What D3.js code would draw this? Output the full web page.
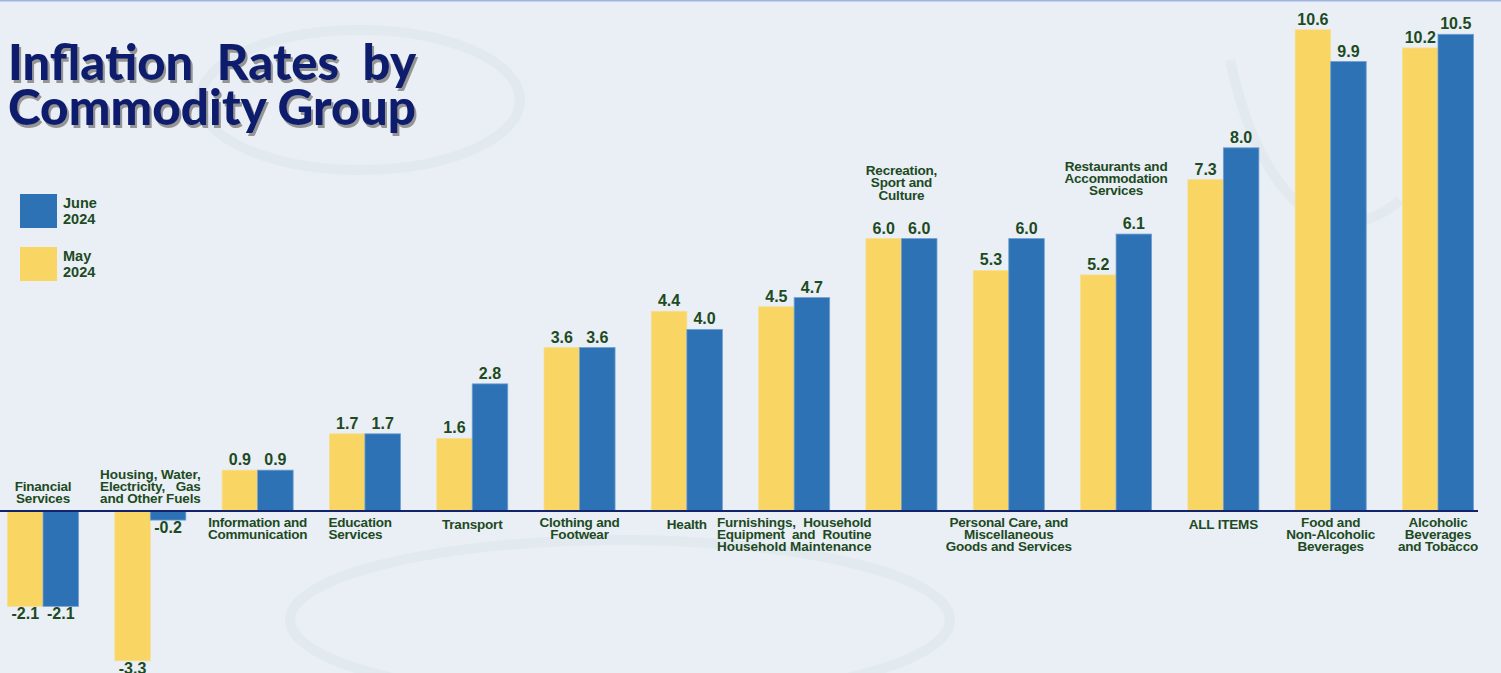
<!DOCTYPE html>
<html>
<head>
<meta charset="utf-8">
<script src="https://cdn.jsdelivr.net/npm/d3@7"></script>
<style>
  html, body { margin: 0; padding: 0; background: #e9eff4; overflow: hidden; }
  svg { display: block; }
</style>
</head>
<body>
<script>
// data
var categories = [
  "Financial Services",
  "Housing, Water, Electricity, Gas and Other Fuels",
  "Information and Communication",
  "Education Services",
  "Transport",
  "Clothing and Footwear",
  "Health",
  "Furnishings, Household Equipment and Routine Household Maintenance",
  "Recreation, Sport and Culture",
  "Personal Care, and Miscellaneous Goods and Services",
  "Restaurants and Accommodation Services",
  "ALL ITEMS",
  "Food and Non-Alcoholic Beverages",
  "Alcoholic Beverages and Tobacco"
];

var categoryLines = [
  ["Financial", "Services"],
  ["Housing, Water,", "Electricity,   Gas", "and Other Fuels"],
  ["Information and", "Communication"],
  ["Education", "Services"],
  ["Transport"],
  ["Clothing and", "Footwear"],
  ["Health"],
  ["Furnishings,  Household", "Equipment  and  Routine", "Household Maintenance"],
  ["Recreation,", "Sport and", "Culture"],
  ["Personal Care, and", "Miscellaneous", "Goods and Services"],
  ["Restaurants and", "Accommodation", "Services"],
  ["ALL ITEMS"],
  ["Food and", "Non-Alcoholic", "Beverages"],
  ["Alcoholic", "Beverages", "and Tobacco"]
];

var may2024  = [-2.1, -3.3, 0.9, 1.7, 1.6, 3.6, 4.4, 4.5, 6.0, 5.3, 5.2, 7.3, 10.6, 10.2];
var june2024 = [-2.1, -0.2, 0.9, 1.7, 2.8, 3.6, 4.0, 4.7, 6.0, 6.0, 6.1, 8.0, 9.9, 10.5];

var seriesKeys = ["May 2024", "June 2024"];
var legendKeys = ["June 2024", "May 2024"];

// where each category label sits: above the zero line, below it, or above the bars
var labelSide = ["above", "above", "below", "below", "below", "below", "below",
                 "below", "top", "below", "top", "below", "below", "below"];

var width = 1501, height = 673;
var colors = {"May 2024": "#f9d563", "June 2024": "#2d72b4"};
var strokes = {"May 2024": "#f6df96", "June 2024": "#6f9fd0"};
var textGreen = "#1d4a1f";

var rows = categories.map(function(c, i) {
  return {cat: c, i: i, "May 2024": may2024[i], "June 2024": june2024[i]};
});

var svg = d3.select("body").append("svg")
    .attr("width", width)
    .attr("height", height);

var defs = svg.append("defs");
defs.append("filter")
    .attr("id", "shadow")
    .attr("x", "-5%").attr("y", "-20%").attr("width", "110%").attr("height", "140%")
  .append("feDropShadow")
    .attr("dx", 2).attr("dy", 3).attr("stdDeviation", 0.6)
    .attr("flood-color", "#8c8c8c").attr("flood-opacity", 0.9);

// background and faint top rule
svg.append("rect")
    .attr("width", width).attr("height", height)
    .attr("fill", "#e9eff4");
svg.append("line")
    .attr("x1", 0).attr("x2", width).attr("y1", 0.5).attr("y2", 0.5)
    .attr("stroke", "#9fb4df").attr("stroke-width", 2);

// a few soft watermark shapes
var wm = svg.append("g").attr("fill", "none").attr("stroke", "#e2e9ef").attr("stroke-width", 10);
wm.append("ellipse").attr("cx", 360).attr("cy", 100).attr("rx", 160).attr("ry", 70);
wm.append("ellipse").attr("cx", 620).attr("cy", 620).attr("rx", 330).attr("ry", 80);
wm.append("path").attr("d", "M 1230 60 C 1260 200, 1330 260, 1400 200");

var x0 = d3.scaleBand()
    .domain(categories)
    .range([7.5, 1473.5])
    .paddingInner(0.338)
    .paddingOuter(0);

var x1 = d3.scaleBand()
    .domain(seriesKeys)
    .range([0, x0.bandwidth()]);

var y = d3.scaleLinear()
    .domain([0, 10])
    .range([511, 57]);

// bars
var groups = svg.append("g")
  .selectAll("g")
  .data(rows)
  .enter().append("g")
    .attr("transform", function(d) { return "translate(" + x0(d.cat) + ",0)"; });

groups.selectAll("rect")
  .data(function(d) { return seriesKeys.map(function(k) { return {key: k, value: d[k]}; }); })
  .enter().append("rect")
    .attr("x", function(d) { return x1(d.key); })
    .attr("y", function(d) { return y(Math.max(0, d.value)); })
    .attr("width", x1.bandwidth())
    .attr("height", function(d) { return Math.abs(y(d.value) - y(0)); })
    .attr("fill", function(d) { return colors[d.key]; })
    .attr("stroke", function(d) { return strokes[d.key]; })
    .attr("stroke-width", 0.8);

// value labels
groups.selectAll("text.value")
  .data(function(d) { return seriesKeys.map(function(k) { return {key: k, value: d[k]}; }); })
  .enter().append("text")
    .attr("class", "value")
    .attr("x", function(d) { return x1(d.key) + x1.bandwidth() / 2; })
    .attr("y", function(d) { return d.value >= 0 ? y(d.value) - 5 : y(d.value) + 13; })
    .attr("text-anchor", "middle")
    .attr("font-family", "Liberation Sans, Arial, sans-serif")
    .attr("font-weight", "bold")
    .attr("font-size", 16)
    .attr("fill", textGreen)
    .text(function(d) { return d.value.toFixed(1); });

// zero line
svg.append("line")
    .attr("x1", 0).attr("x2", 1478)
    .attr("y1", y(0)).attr("y2", y(0))
    .attr("stroke", "#13246e")
    .attr("stroke-width", 2.2);

// category labels
var lineH = 12.2;
rows.forEach(function(d, i) {
  var lines = categoryLines[i];
  var side = labelSide[i];
  var cx = x0(d.cat) + x0.bandwidth() / 2;
  var firstY;
  if (side === "below") {
    firstY = y(0) + (lines.length === 1 ? 18 : 16);
  } else if (side === "above") {
    firstY = y(0) - 8 - (lines.length - 1) * lineH;
  } else {
    var top = y(Math.max(d["May 2024"], d["June 2024"]));
    firstY = top - 39 - (lines.length - 1) * lineH;
  }
  var anchor = "middle", tx = cx;
  if (i === 3) { anchor = "start"; tx = x0(d.cat) - 1; }

  var t = svg.append("g").selectAll("text")
    .data(lines)
    .enter().append("text")
      .attr("x", tx)
      .attr("y", function(l, j) { return firstY + j * lineH; })
      .attr("text-anchor", anchor)
      .attr("font-family", "Liberation Sans, Arial, sans-serif")
      .attr("font-weight", "bold")
      .attr("font-size", 13.5)
      .attr("letter-spacing", -0.2)
      .attr("fill", textGreen)
      .style("white-space", "pre")
      .text(function(l) { return l; });

  // justified blocks: stretch each line to the widest one
  if (i === 1 || i === 7) {
    var w = d3.max(t.nodes(), function(n) { return n.getComputedTextLength(); });
    t.attr("textLength", w).attr("lengthAdjust", "spacing");
  }
});

// title with soft shadow
var titleLines = ["Inflation  Rates  by", "Commodity Group"];
svg.append("g")
    .attr("filter", "url(#shadow)")
  .selectAll("text")
  .data(titleLines)
  .enter().append("text")
    .attr("x", 8)
    .attr("y", function(d, j) { return 80 + j * 45; })
    .attr("font-family", "Lato, 'Open Sans', sans-serif")
    .attr("font-weight", 900)
    .attr("font-size", 49)
    .attr("textLength", 408)
    .attr("lengthAdjust", "spacingAndGlyphs")
    .attr("fill", "#0c1b6c")
    .style("white-space", "pre")
    .text(function(d) { return d; });

// legend
var legend = svg.append("g")
  .selectAll("g")
  .data(legendKeys)
  .enter().append("g")
    .attr("transform", function(d, i) { return "translate(20," + (194 + i * 53) + ")"; });

legend.append("rect")
    .attr("width", 37).attr("height", 34)
    .attr("fill", function(d) { return colors[d]; });

legend.selectAll("text")
  .data(function(d) { return d.split(" "); })
  .enter().append("text")
    .attr("x", 43)
    .attr("y", function(d, j) { return 14 + j * 16; })
    .attr("font-family", "Liberation Sans, Arial, sans-serif")
    .attr("font-weight", "bold")
    .attr("font-size", 14.5)
    .attr("fill", textGreen)
    .text(function(d) { return d; });
</script>
</body>
</html>
